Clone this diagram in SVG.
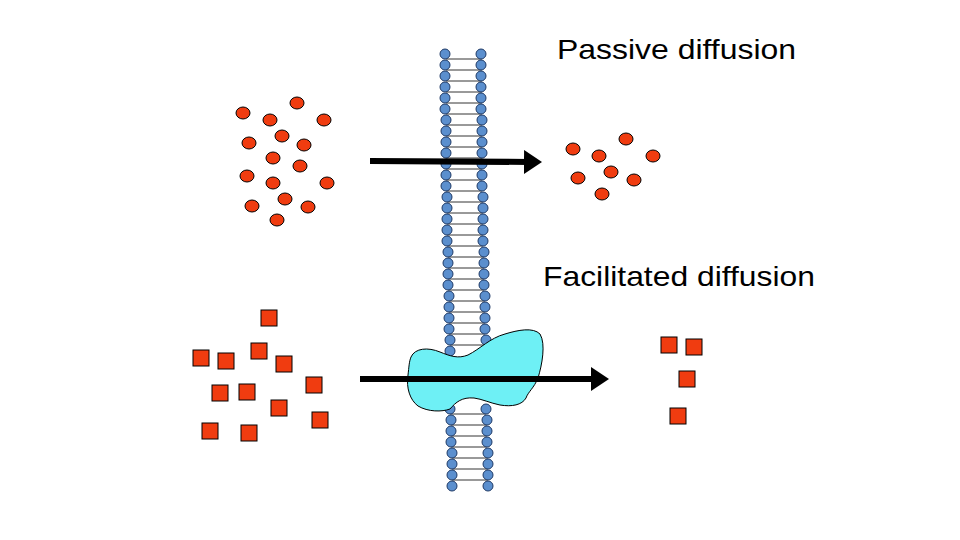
<svg xmlns="http://www.w3.org/2000/svg" width="960" height="540" viewBox="0 0 960 540">
<style>
.h{fill:#5b8fce;stroke:#1f3a66;stroke-width:1}
.t{fill:none;stroke:#000;stroke-width:0.8}
.m{fill:#f03c10;stroke:#000;stroke-width:1}
.lbl{font-family:"Liberation Sans",Arial,sans-serif;font-size:28px;fill:#000}
.ar{stroke:#000;stroke-width:6}
</style>
<defs>
<marker id="ah" markerWidth="4" markerHeight="4" refX="1" refY="2" orient="auto" markerUnits="strokeWidth"><path d="M0,0 L3,2 L0,4 Z" fill="#000"/></marker>
</defs>
<rect width="960" height="540" fill="#fff"/>
<g id="membrane">
<g id="tails">
<path class="t" d="M446,59 L482,59 M446,70 L482,70 M446,81 L482,81 M446,92 L482,92 M446,103 L482,103 M446,114 L482,114 M446,125 L482,125 M446,136 L482,136 M446,147 L482,147 M446,158 L482,158 M446,169 L482,169 M446,180 L482,180 M446,191 L482,191 M447,202 L483,202 M447,213 L483,213 M447,224 L483,224 M447,235 L483,235 M447,246 L483,246 M448,257 L484,257 M448,268 L484,268 M448,279 L484,279 M448,290 L484,290 M449,301 L485,301 M449,312 L485,312 M449,323 L485,323 M449,334 L485,334 M450,345 L486,345 M450,414 L486,414 M451,425 L487,425 M451,436 L487,436 M451,447 L487,447 M452,458 L488,458 M452,469 L488,469 M452,480 L488,480"/>
</g>
<g id="heads">
<circle class="h" cx="445" cy="54" r="5"/><circle class="h" cx="481" cy="54" r="5"/>
<circle class="h" cx="445" cy="65" r="5"/><circle class="h" cx="481" cy="65" r="5"/>
<circle class="h" cx="445" cy="76" r="5"/><circle class="h" cx="481" cy="76" r="5"/>
<circle class="h" cx="445" cy="87" r="5"/><circle class="h" cx="481" cy="87" r="5"/>
<circle class="h" cx="445" cy="98" r="5"/><circle class="h" cx="481" cy="98" r="5"/>
<circle class="h" cx="445" cy="109" r="5"/><circle class="h" cx="481" cy="109" r="5"/>
<circle class="h" cx="446" cy="120" r="5"/><circle class="h" cx="482" cy="120" r="5"/>
<circle class="h" cx="446" cy="131" r="5"/><circle class="h" cx="482" cy="131" r="5"/>
<circle class="h" cx="446" cy="142" r="5"/><circle class="h" cx="482" cy="142" r="5"/>
<circle class="h" cx="446" cy="153" r="5"/><circle class="h" cx="482" cy="153" r="5"/>
<circle class="h" cx="446" cy="164" r="5"/><circle class="h" cx="482" cy="164" r="5"/>
<circle class="h" cx="446" cy="175" r="5"/><circle class="h" cx="482" cy="175" r="5"/>
<circle class="h" cx="446" cy="186" r="5"/><circle class="h" cx="482" cy="186" r="5"/>
<circle class="h" cx="447" cy="197" r="5"/><circle class="h" cx="483" cy="197" r="5"/>
<circle class="h" cx="447" cy="208" r="5"/><circle class="h" cx="483" cy="208" r="5"/>
<circle class="h" cx="447" cy="219" r="5"/><circle class="h" cx="483" cy="219" r="5"/>
<circle class="h" cx="447" cy="230" r="5"/><circle class="h" cx="483" cy="230" r="5"/>
<circle class="h" cx="447" cy="241" r="5"/><circle class="h" cx="483" cy="241" r="5"/>
<circle class="h" cx="448" cy="252" r="5"/><circle class="h" cx="484" cy="252" r="5"/>
<circle class="h" cx="448" cy="263" r="5"/><circle class="h" cx="484" cy="263" r="5"/>
<circle class="h" cx="448" cy="274" r="5"/><circle class="h" cx="484" cy="274" r="5"/>
<circle class="h" cx="448" cy="285" r="5"/><circle class="h" cx="484" cy="285" r="5"/>
<circle class="h" cx="449" cy="296" r="5"/><circle class="h" cx="485" cy="296" r="5"/>
<circle class="h" cx="449" cy="307" r="5"/><circle class="h" cx="485" cy="307" r="5"/>
<circle class="h" cx="449" cy="318" r="5"/><circle class="h" cx="485" cy="318" r="5"/>
<circle class="h" cx="449" cy="329" r="5"/><circle class="h" cx="485" cy="329" r="5"/>
<circle class="h" cx="450" cy="340" r="5"/><circle class="h" cx="486" cy="340" r="5"/>
<circle class="h" cx="450" cy="351" r="5"/><circle class="h" cx="486" cy="351" r="5"/>
<circle class="h" cx="450" cy="409" r="5"/><circle class="h" cx="486" cy="409" r="5"/>
<circle class="h" cx="451" cy="420" r="5"/><circle class="h" cx="487" cy="420" r="5"/>
<circle class="h" cx="451" cy="431" r="5"/><circle class="h" cx="487" cy="431" r="5"/>
<circle class="h" cx="451" cy="442" r="5"/><circle class="h" cx="487" cy="442" r="5"/>
<circle class="h" cx="452" cy="453" r="5"/><circle class="h" cx="488" cy="453" r="5"/>
<circle class="h" cx="452" cy="464" r="5"/><circle class="h" cx="488" cy="464" r="5"/>
<circle class="h" cx="452" cy="475" r="5"/><circle class="h" cx="488" cy="475" r="5"/>
<circle class="h" cx="452" cy="486" r="5"/><circle class="h" cx="488" cy="486" r="5"/>
</g>
</g>
<g id="protein">
<path d="M411,357 C415,348 428,347 440,352 C450,356 458,359 468,355 C480,349 490,338 505,334 C518,330 533,327 540,334 C546,344 542,365 538,378 C534,388 528,392 526,398 C522,405 512,407 500,405 C490,403 482,399 474,398 C462,397 456,402 450,409 C442,412 428,412 418,406 C410,400 406,388 408,375 C409,367 409,362 411,357 Z" fill="#6ef0f5" stroke="#000" stroke-width="1"/>
</g>
<g id="molecules-passive">
<ellipse class="m" cx="243" cy="113" rx="7" ry="6"/><ellipse class="m" cx="297" cy="103" rx="7" ry="6"/>
<ellipse class="m" cx="270" cy="120" rx="7" ry="6"/><ellipse class="m" cx="324" cy="120" rx="7" ry="6"/>
<ellipse class="m" cx="249" cy="143" rx="7" ry="6"/><ellipse class="m" cx="282" cy="136" rx="7" ry="6"/>
<ellipse class="m" cx="304" cy="145" rx="7" ry="6"/><ellipse class="m" cx="273" cy="158" rx="7" ry="6"/>
<ellipse class="m" cx="300" cy="166" rx="7" ry="6"/><ellipse class="m" cx="247" cy="176" rx="7" ry="6"/>
<ellipse class="m" cx="273" cy="183" rx="7" ry="6"/><ellipse class="m" cx="327" cy="183" rx="7" ry="6"/>
<ellipse class="m" cx="252" cy="206" rx="7" ry="6"/><ellipse class="m" cx="285" cy="199" rx="7" ry="6"/>
<ellipse class="m" cx="308" cy="207" rx="7" ry="6"/><ellipse class="m" cx="277" cy="220" rx="7" ry="6"/>
<ellipse class="m" cx="626" cy="139" rx="7" ry="6"/><ellipse class="m" cx="573" cy="149" rx="7" ry="6"/>
<ellipse class="m" cx="599" cy="156" rx="7" ry="6"/><ellipse class="m" cx="653" cy="156" rx="7" ry="6"/>
<ellipse class="m" cx="611" cy="172" rx="7" ry="6"/><ellipse class="m" cx="578" cy="178" rx="7" ry="6"/>
<ellipse class="m" cx="634" cy="180" rx="7" ry="6"/><ellipse class="m" cx="602" cy="194" rx="7" ry="6"/>
</g>
<g id="molecules-facilitated">
<rect class="m" x="261" y="310" width="16" height="16"/><rect class="m" x="193" y="350" width="16" height="16"/>
<rect class="m" x="218" y="353" width="16" height="16"/><rect class="m" x="251" y="343" width="16" height="16"/>
<rect class="m" x="276" y="356" width="16" height="16"/><rect class="m" x="306" y="377" width="16" height="16"/>
<rect class="m" x="212" y="385" width="16" height="16"/><rect class="m" x="239" y="384" width="16" height="16"/>
<rect class="m" x="271" y="400" width="16" height="16"/><rect class="m" x="312" y="412" width="16" height="16"/>
<rect class="m" x="202" y="423" width="16" height="16"/><rect class="m" x="241" y="425" width="16" height="16"/>
<rect class="m" x="661" y="337" width="16" height="16"/><rect class="m" x="686" y="339" width="16" height="16"/>
<rect class="m" x="679" y="371" width="16" height="16"/><rect class="m" x="670" y="408" width="16" height="16"/>
</g>
<g id="connectors">
<line class="ar" x1="370" y1="161" x2="530" y2="162" marker-end="url(#ah)"/>
<line class="ar" x1="360" y1="379" x2="597" y2="379" marker-end="url(#ah)"/>
</g>
<text class="lbl" x="557" y="59" textLength="239" lengthAdjust="spacingAndGlyphs">Passive diffusion</text>
<text class="lbl" x="543" y="286" textLength="272" lengthAdjust="spacingAndGlyphs">Facilitated diffusion</text>
</svg>
